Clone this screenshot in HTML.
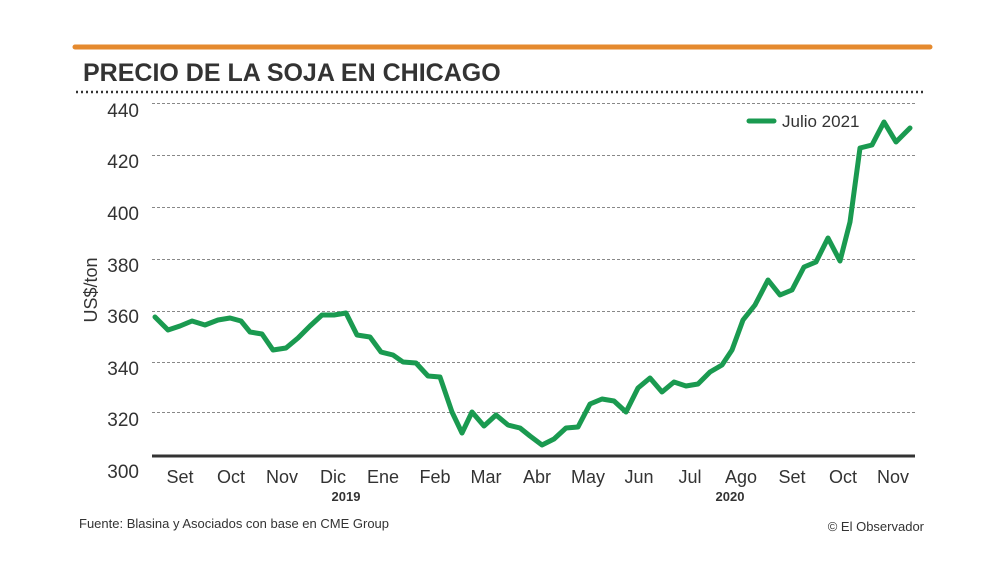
<!DOCTYPE html>
<html><head><meta charset="utf-8"><style>
body{margin:0;background:#fff;}
svg{display:block;font-family:"Liberation Sans",sans-serif;}
</style></head><body>
<svg width="1000" height="583" viewBox="0 0 1000 583">
<rect width="1000" height="583" fill="#fff"/>
<line x1="75" y1="47" x2="930" y2="47" stroke="#e58a2e" stroke-width="5" stroke-linecap="round"/>
<text x="83" y="81" font-size="25" font-weight="bold" fill="#333">PRECIO DE LA SOJA EN CHICAGO</text>
<line x1="76" y1="92" x2="926" y2="92" stroke="#333" stroke-width="2.5" stroke-dasharray="2,3"/>
<g stroke="#888" stroke-width="1" stroke-dasharray="3,2">
<line x1="152" y1="103.5" x2="915" y2="103.5"/>
<line x1="152" y1="155.5" x2="915" y2="155.5"/>
<line x1="152" y1="207.5" x2="915" y2="207.5"/>
<line x1="152" y1="259.5" x2="915" y2="259.5"/>
<line x1="152" y1="311.5" x2="915" y2="311.5"/>
<line x1="152" y1="362.5" x2="915" y2="362.5"/>
<line x1="152" y1="412.5" x2="915" y2="412.5"/>
</g>
<line x1="152" y1="456" x2="915" y2="456" stroke="#333" stroke-width="3"/>
<g font-size="19" fill="#333" text-anchor="end">
<text x="139" y="117">440</text><text x="139" y="168">420</text><text x="139" y="220">400</text>
<text x="139" y="272">380</text><text x="139" y="323">360</text><text x="139" y="375">340</text>
<text x="139" y="426">320</text><text x="139" y="478">300</text>
</g>
<text transform="translate(97,290) rotate(-90)" font-size="18" fill="#333" text-anchor="middle">US$/ton</text>
<g font-size="18" fill="#333" text-anchor="middle">
<text x="180" y="483">Set</text><text x="231" y="483">Oct</text><text x="282" y="483">Nov</text>
<text x="333" y="483">Dic</text><text x="383" y="483">Ene</text><text x="435" y="483">Feb</text>
<text x="486" y="483">Mar</text><text x="537" y="483">Abr</text><text x="588" y="483">May</text>
<text x="639" y="483">Jun</text><text x="690" y="483">Jul</text><text x="741" y="483">Ago</text>
<text x="792" y="483">Set</text><text x="843" y="483">Oct</text><text x="893" y="483">Nov</text>
</g>
<text x="346" y="501" font-size="13" font-weight="bold" fill="#333" text-anchor="middle">2019</text>
<text x="730" y="501" font-size="13" font-weight="bold" fill="#333" text-anchor="middle">2020</text>
<polyline fill="none" stroke="#1a9a50" stroke-width="5" stroke-linejoin="round" stroke-linecap="round" points="155,317 168,330 180,326 192,321 205,325 218,320 230,318 241,321 250,332 262,334 273,350 286,348 298,338 310,326 322,315 334,315 346,313 357,335 370,337 381,352 393,355 403,362 416,363 428,376 440,377 452,412 462,433 472,412 484,426 496,415 508,425 520,428 530,436 542,445 554,439 566,428 578,427 590,404 602,399 614,401 626,412 638,388 650,378 662,392 674,382 686,386 698,384 710,372 722,365 732,350 743,320 755,305 768,280 780,295 792,290 804,267 816,262 828,238 840,261 850,222 860,148 872,145 884,122 896,142 910,128"/>
<line x1="749" y1="121" x2="774" y2="121" stroke="#1a9a50" stroke-width="5" stroke-linecap="round"/>
<text x="782" y="127" font-size="17" fill="#333">Julio 2021</text>
<text x="79" y="528" font-size="13" fill="#333">Fuente: Blasina y Asociados con base en CME Group</text>
<text x="924" y="531" font-size="13" fill="#333" text-anchor="end">© El Observador</text>
</svg>
</body></html>
